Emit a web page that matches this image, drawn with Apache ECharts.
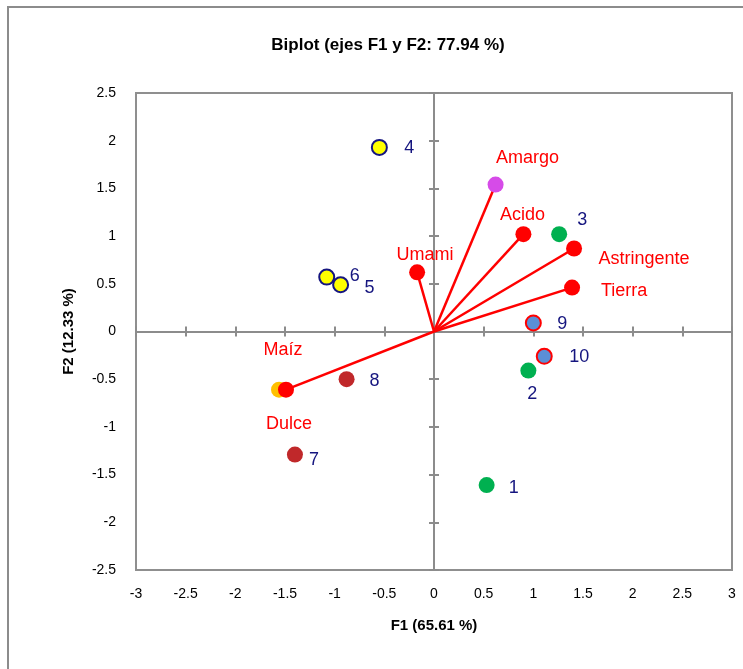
<!DOCTYPE html>
<html>
<head>
<meta charset="utf-8">
<script src="https://cdn.jsdelivr.net/npm/echarts@6/dist/echarts.min.js"></script>
<style>html,body{margin:0;padding:0;background:#fff}#c{width:743px;height:669px}</style>
</head>
<body>
<div id="c"></div>
<script>
// ---- data ----
const titleText = 'Biplot (ejes F1 y F2: 77.94 %)';
const xName = 'F1 (65.61 %)';
const yName = 'F2 (12.33 %)';
const xTicks = [-3, 3, 0.5];
const yTicks = [-2.5, 2.5, 0.5];

const obsNames = ['1', '2', '3', '4', '5', '6', '7', '8', '9', '10'];
const obsF1 = [0.53, 0.95, 1.26, -0.55, -0.94, -1.08, -1.40, -0.88, 1.00, 1.11];
const obsF2 = [-1.61, -0.41, 1.02, 1.93, 0.49, 0.57, -1.29, -0.50, 0.09, -0.26];

const varNames = ['Dulce', 'Maíz', 'Umami', 'Amargo', 'Acido', 'Astringente', 'Tierra'];
const varF1 = [-1.56, -1.49, -0.17, 0.62, 0.90, 1.41, 1.39];
const varF2 = [-0.61, -0.61, 0.62, 1.54, 1.02, 0.87, 0.46];
const vectorNames = ['Maíz', 'Umami', 'Amargo', 'Acido', 'Astringente', 'Tierra'];

// ---- styles ----
const NAVY = '#15157f', RED = '#ff0000';
const obsStyle = {
  '1': {fill: '#00b050', border: '#00b050', off: [27, 3]},
  '2': {fill: '#00b050', border: '#00b050', off: [4, 23]},
  '3': {fill: '#00b050', border: '#00b050', off: [23, -14]},
  '4': {fill: '#ffff00', border: '#15157f', off: [30, 1]},
  '5': {fill: '#ffff00', border: '#15157f', off: [29, 3]},
  '6': {fill: '#ffff00', border: '#15157f', off: [28, -1]},
  '7': {fill: '#c0282a', border: '#c0282a', off: [19, 5]},
  '8': {fill: '#c0282a', border: '#c0282a', off: [28, 2]},
  '9': {fill: '#5b8fd6', border: '#ff0000', off: [29, 1]},
  '10': {fill: '#5b8fd6', border: '#ff0000', off: [35, 1]}
};
const varStyle = {
  'Dulce': {fill: '#ffc000', off: [10, 34]},
  'Maíz': {fill: '#ff0000', off: [-3, -40]},
  'Umami': {fill: '#ff0000', off: [8, -17]},
  'Amargo': {fill: '#d64be8', off: [32, -27]},
  'Acido': {fill: '#ff0000', off: [-1, -19]},
  'Astringente': {fill: '#ff0000', off: [70, 11]},
  'Tierra': {fill: '#ff0000', off: [52, 3]}
};

const FONT = 'Liberation Sans';
const lineData = vectorNames.map(n => {
  const i = varNames.indexOf(n);
  return {coords: [[0, 0], [varF1[i], varF2[i]]]};
});
const varData = varNames.map((n, i) => ({
  name: n, value: [varF1[i], varF2[i]],
  itemStyle: {color: varStyle[n].fill, borderWidth: 0, opacity: 1},
  label: {offset: varStyle[n].off}
}));
const obsData = obsNames.map((n, i) => {
  const bordered = obsStyle[n].border !== obsStyle[n].fill;
  return {
    name: n, value: [obsF1[i], obsF2[i]],
    symbolSize: bordered ? 15 : 16,
    itemStyle: {color: obsStyle[n].fill, borderColor: obsStyle[n].border,
                borderWidth: bordered ? 2 : 0, opacity: 1},
    label: {offset: obsStyle[n].off}
  };
});

function xa(extra) {
  return Object.assign({type: 'value', min: xTicks[0], max: xTicks[1], interval: xTicks[2],
    splitLine: {show: false}}, extra);
}
function ya(extra) {
  return Object.assign({type: 'value', min: yTicks[0], max: yTicks[1], interval: yTicks[2],
    splitLine: {show: false}}, extra);
}
const axisGrey = '#8c8c8c';
const centerLine = {show: true, onZero: true, lineStyle: {color: axisGrey, width: 2}};
const tickStyle = {color: axisGrey, width: 2};

const chart = echarts.init(document.getElementById('c'), null, {renderer: 'canvas'});
chart.setOption({
  animation: false,
  backgroundColor: '#fff',
  title: {text: titleText, left: 383, top: 32, textAlign: 'center',
    textStyle: {fontFamily: FONT, fontWeight: 'bold', fontSize: 17, color: '#000'}},
  graphic: [{type: 'rect', shape: {x: 8, y: 7, width: 800, height: 800},
    style: {fill: 'none', stroke: '#8c8c8c', lineWidth: 2}, silent: true, z: -1}],
  grid: {left: 136, right: 11, top: 93, bottom: 99, show: true,
    borderColor: '#8f8f8f', borderWidth: 2, containLabel: false},
  xAxis: [
    xa({position: 'bottom', axisLine: {show: false, onZero: false}, axisTick: {show: false},
      axisLabel: {margin: 17, color: '#000', fontFamily: FONT, fontSize: 14},
      name: xName, nameLocation: 'middle', nameGap: 48,
      nameTextStyle: {fontFamily: FONT, fontWeight: 'bold', fontSize: 15, color: '#000'}}),
    xa({position: 'bottom', axisLine: centerLine,
      axisTick: {show: true, inside: true, length: 5, lineStyle: tickStyle},
      axisLabel: {show: false}}),
    xa({position: 'bottom', axisLine: centerLine,
      axisTick: {show: true, inside: false, length: 5, lineStyle: tickStyle},
      axisLabel: {show: false}})
  ],
  yAxis: [
    ya({position: 'left', axisLine: {show: false, onZero: false}, axisTick: {show: false},
      axisLabel: {margin: 20, color: '#000', fontFamily: FONT, fontSize: 14},
      name: yName, nameLocation: 'middle', nameGap: 60, nameRotate: 90,
      nameTextStyle: {fontFamily: FONT, fontWeight: 'bold', fontSize: 15, color: '#000'}}),
    ya({position: 'left', axisLine: centerLine,
      axisTick: {show: true, inside: true, length: 5, lineStyle: tickStyle},
      axisLabel: {show: false}}),
    ya({position: 'left', axisLine: centerLine,
      axisTick: {show: true, inside: false, length: 5, lineStyle: tickStyle},
      axisLabel: {show: false}})
  ],
  series: [
    {type: 'lines', coordinateSystem: 'cartesian2d', xAxisIndex: 0, yAxisIndex: 0,
      data: lineData, lineStyle: {color: RED, width: 2.5, opacity: 1}, z: 3, silent: true},
    {type: 'scatter', xAxisIndex: 0, yAxisIndex: 0, data: varData, symbolSize: 16, z: 4,
      itemStyle: {opacity: 1},
      label: {show: true, position: 'inside', formatter: '{b}', color: RED,
        fontFamily: FONT, fontSize: 18}},
    {type: 'scatter', xAxisIndex: 0, yAxisIndex: 0, data: obsData, z: 5,
      itemStyle: {opacity: 1},
      label: {show: true, position: 'inside', formatter: '{b}', color: NAVY,
        fontFamily: FONT, fontSize: 18}}
  ]
});
</script>
</body>
</html>
